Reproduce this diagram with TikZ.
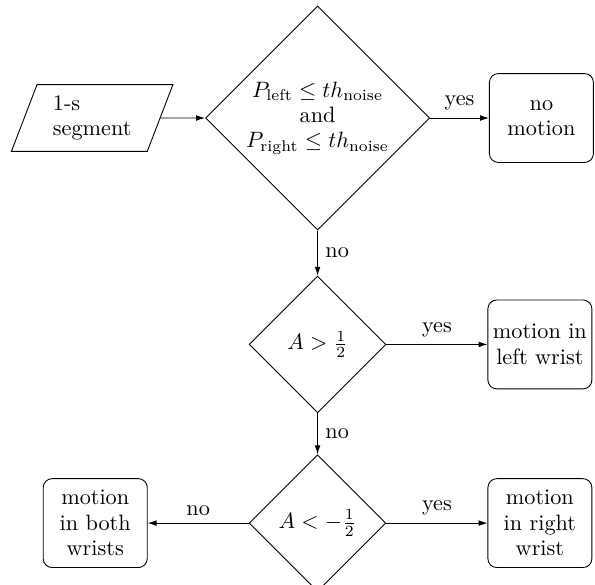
\documentclass[tikz,border=0pt]{standalone}
\usepackage{amsmath}
\usetikzlibrary{shapes.geometric,arrows.meta,positioning}

\begin{document}
\begin{tikzpicture}[
    font=\rmfamily\fontsize{10}{11.4}\selectfont,
    decision/.style={diamond, draw, aspect=1, inner sep=1pt, align=center},
    box/.style={rectangle, draw, rounded corners=4pt, align=center, minimum width=46.8pt, minimum height=40pt, inner sep=1pt},
    io/.style={trapezium, trapezium left angle=70, trapezium right angle=110, trapezium stretches=true, draw, minimum width=73pt, minimum height=30pt, align=left},
    arrow/.style={-{Latex[length=4pt,width=2.6pt]}}
]
    \useasboundingbox (0,0) rectangle (267.75pt,-262.8pt);
    \node[decision, minimum size=99.5pt] (noise) at (142.9pt,-53.1pt) {$P_{\text{left}} \leq th_{\text{noise}}$\\and\\$P_{\text{right}} \leq th_{\text{noise}}$};
    \node[io, left=19pt of noise, xshift=-1pt] (segment) {1-s\\segment};
    \node[box, right=26.5pt of noise] (nomotion) {no\\motion};
    \node[decision, minimum size=61.5pt, below=20.3pt of noise] (posA) {$A > \frac{1}{2}$};
    \node[box, right=45.5pt of posA] (leftwrist) {motion in\\left wrist};
    \node[decision, minimum size=61.5pt, below=18.5pt of posA] (negA) {$A < -\frac{1}{2}$};
    \node[box, right=45.5pt of negA] (rightwrist) {motion\\in right\\wrist};
    \node[box, left=45.5pt of negA] (bothwrists) {motion\\in both\\wrists};

    \draw[arrow] (segment) -- (noise);
    \draw[arrow] (noise) -- node[above] {yes} (nomotion);
    \draw[arrow] (noise) -- node[right] {no} (posA);
    \draw[arrow] (posA) -- node[above] {yes} (leftwrist);
    \draw[arrow] (posA) -- node[right] {no} (negA);
    \draw[arrow] (negA) -- node[above] {yes} (rightwrist);
    \draw[arrow] (negA) -- node[above] {no} (bothwrists);
\end{tikzpicture}
\end{document}
